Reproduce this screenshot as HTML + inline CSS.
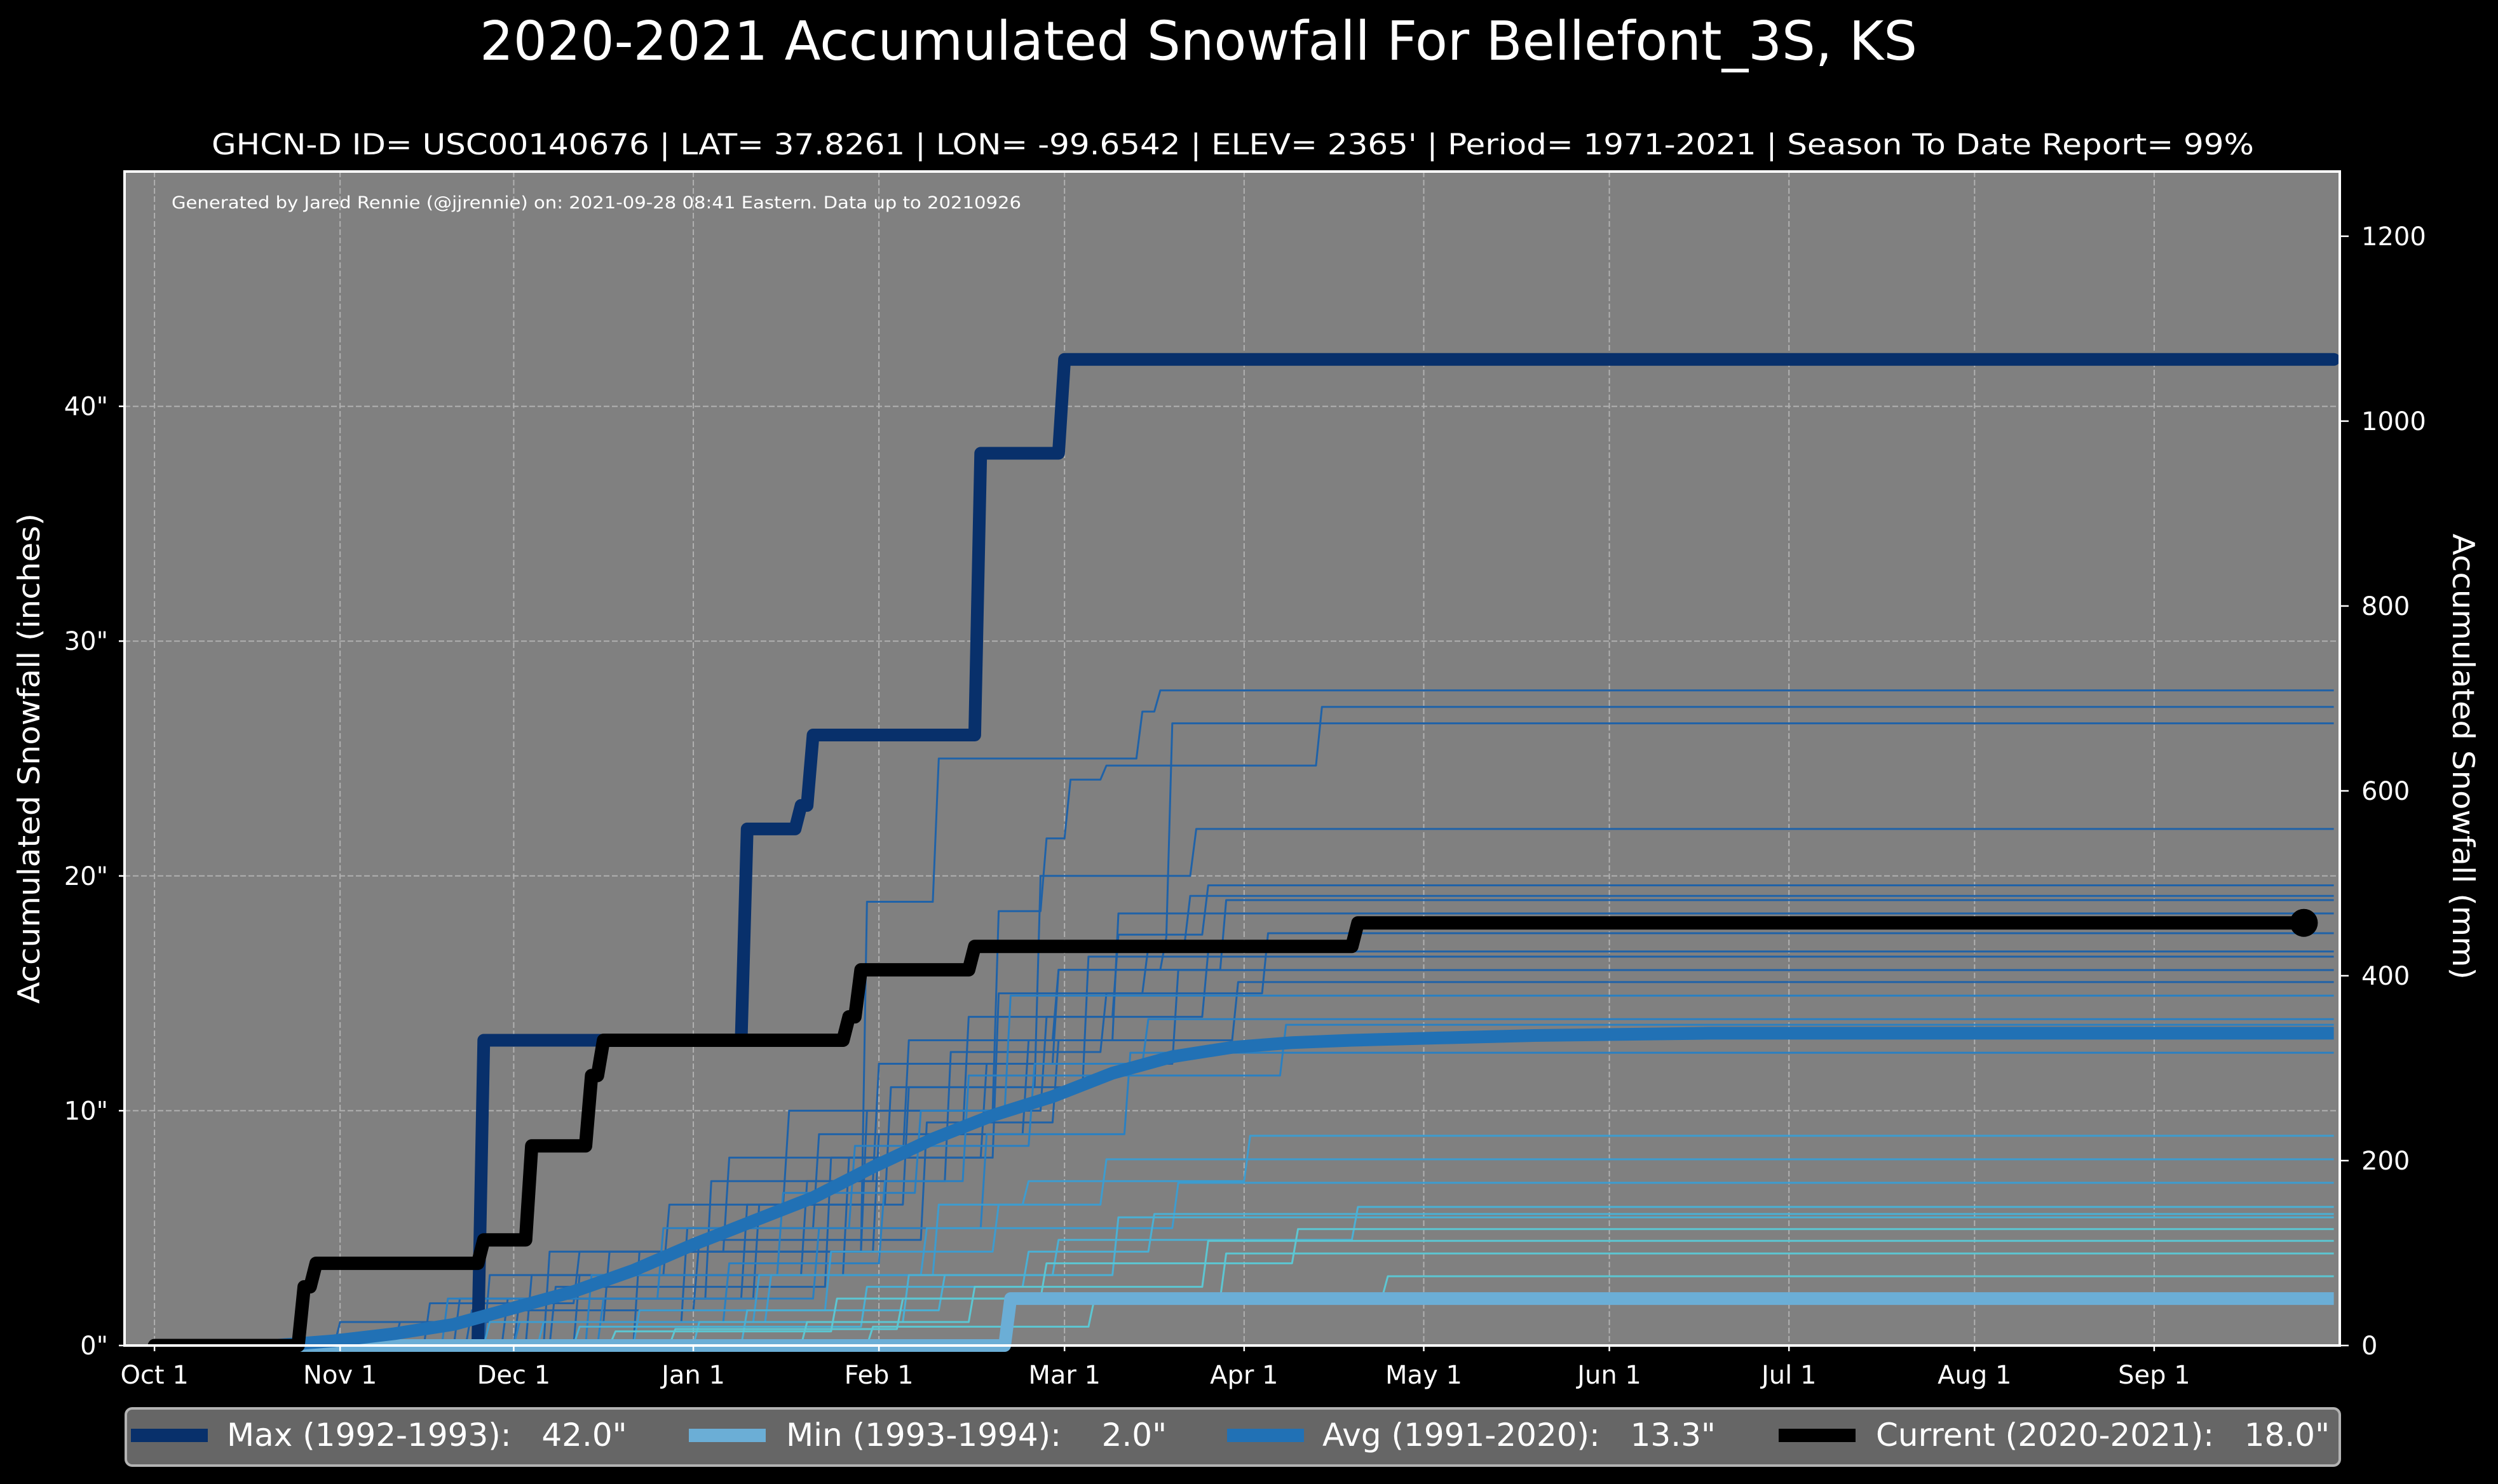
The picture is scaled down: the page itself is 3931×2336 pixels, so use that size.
<!DOCTYPE html>
<html><head><meta charset="utf-8">
<style>
html,body{margin:0;padding:0;background:#000;}
svg{display:block;font-family:"DejaVu Sans","Liberation Sans",sans-serif;}
text{fill:#fff;white-space:pre;}
</style></head>
<body>
<svg id="chart" width="3931" height="2336" viewBox="0 0 3931 2336" xmlns="http://www.w3.org/2000/svg">
<rect x="0" y="0" width="3931" height="2336" fill="#000"/>
<text x="755" y="94" font-size="85" textLength="2262" lengthAdjust="spacingAndGlyphs">2020-2021 Accumulated Snowfall For Bellefont_3S, KS</text>
<text x="1940" y="243" font-size="45" text-anchor="middle" textLength="3214" lengthAdjust="spacingAndGlyphs">GHCN-D ID= USC00140676 | LAT= 37.8261 | LON= -99.6542 | ELEV= 2365' | Period= 1971-2021 | Season To Date Report= 99%</text>
<rect x="196" y="270" width="3486" height="1848" fill="#808080"/>
<g id="grid"></g>
<g id="series"></g>
<text x="270" y="328" font-size="27" textLength="1337" lengthAdjust="spacingAndGlyphs">Generated by Jared Rennie (@jjrennie) on: 2021-09-28 08:41 Eastern. Data up to 20210926</text>
<rect x="196" y="270" width="3486" height="1848" fill="none" stroke="#fff" stroke-width="4"/>
<g id="axes"></g>
<text transform="translate(62,1194) rotate(-90)" font-size="47" text-anchor="middle" textLength="772" lengthAdjust="spacingAndGlyphs">Accumulated Snowfall (inches)</text>
<text transform="translate(3860,1191) rotate(90)" font-size="47" text-anchor="middle" textLength="702" lengthAdjust="spacingAndGlyphs">Accumulated Snowfall (mm)</text>
<g>
<rect x="198" y="2217" width="3484" height="90" rx="10" fill="#666666" stroke="#b3b3b3" stroke-width="4"/>
<rect x="206" y="2249" width="121" height="21" fill="#08306b"/>
<text x="357" y="2276" font-size="50">Max (1992-1993):   42.0"</text>
<rect x="1084" y="2249" width="121" height="21" fill="#6baed6"/>
<text x="1237" y="2276" font-size="50">Min (1993-1994):    2.0"</text>
<rect x="1931" y="2249" width="121" height="21" fill="#2171b5"/>
<text x="2081" y="2276" font-size="50">Avg (1991-2020):   13.3"</text>
<rect x="2799" y="2249" width="121" height="21" fill="#000"/>
<text x="2952" y="2276" font-size="50">Current (2020-2021):   18.0"</text>
</g>
</svg>
<script>
// ---- data ----
const monthLabels = ["Oct 1","Nov 1","Dec 1","Jan 1","Feb 1","Mar 1","Apr 1","May 1","Jun 1","Jul 1","Aug 1","Sep 1"];
const monthDays = [0,31,60,90,121,152,182,212,243,273,304,334];
const inchTicks = [0,10,20,30,40];
const mmTicks = [0,200,400,600,800,1000,1200];
const seasonEnd = 364;
const maxSteps = [[54,13],[98,22],[107,23],[109,26],[137,38],[151,42]];
const minSteps = [[142,2]];
const currentSteps = [[24,2.5],[26,3.5],[54,4.5],[62,8.5],[72,11.5],[74,13],[115,14],[117,16],[136,17],[200,18]];
const currentEndDay = 359;
const avgDays = [20,30,40,50,60,70,80,90,100,110,120,130,140,150,160,170,180,190,200,215,230,260,364];
const avgVals = [0,0.2,0.5,0.9,1.6,2.3,3.2,4.3,5.3,6.3,7.6,8.8,9.8,10.6,11.6,12.3,12.7,12.9,13.0,13.1,13.2,13.3,13.3];
const yearSteps = [
 [[45,1.8],[70,4],[118,18.9],[130,25],[164,27],[167,27.9]],
 [[55,3],[85,6],[105,10],[140,18.5],[148,21.6],[152,24.1],[158,24.7],[194,27.2]],
 [[65,4],[95,8],[125,13],[150,16],[168,17.4],[169,26.5]],
 [[60,2],[100,6],[122,11],[147,20],[173,22]],
 [[40,1],[88,5],[110,9],[135,14],[160,17.5],[175,19.6]],
 [[70,3],[115,8],[140,15],[165,17],[172,19.15]],
 [[50,2],[92,7],[120,12],[150,16],[178,18.97]],
 [[80,4],[120,9],[145,13],[160,18.4]],
 [[62,3],[108,7],[132,12.5],[158,15],[185,17.56]],
 [[30,1],[75,4],[118,10],[148,14],[175,16.78]],
 [[58,2],[98,6],[125,11],[155,16.56]],
 [[66,2.5],[112,8],[138,12],[170,15.99]],
 [[52,1.5],[90,4.5],[128,9.5],[150,13],[180,15.48]],
 [[72,3],[104,6.5],[127,10],[142,14.9]],
 [[48,2],[84,5],[116,8.5],[146,12],[165,13.9]],
 [[60,1],[95,3.5],[121,7],[135,11.5],[188,13.66]],
 [[74,2],[110,5],[138,9],[162,12.47]],
 [[55,1],[100,3],[130,6],[145,7],[182,8.93]],
 [[80,1.5],[112,4],[140,6],[158,7.93]],
 [[64,1],[102,3],[128,5],[170,6.93]],
 [[90,1],[125,3],[150,4.5],[200,5.9]],
 [[70,0.8],[118,2.5],[145,4],[166,5.6]],
 [[98,1.5],[131,3],[160,5.46]],
 [[76,0.6],[113,2],[148,3.5],[190,4.96]],
 [[108,1],[136,2.5],[175,4.46]],
 [[86,0.7],[124,2],[178,3.92]],
 [[119,0.8],[156,2],[205,2.95]]
];
// ---- axes ----
const X0=196, X1=3682, Y0=2118, Y1=270, DMIN=-5, DMAX=365, IMAX=50;
function xs(d){return X0+(d-DMIN)/(DMAX-DMIN)*(X1-X0);}
function ys(v){return Y0-v/IMAX*(Y0-Y1);}
function ymm(mm){return ys(mm/25.4);}
const NS="http://www.w3.org/2000/svg";
function mk(tag,attrs,parent){const e=document.createElementNS(NS,tag);for(const k in attrs)e.setAttribute(k,attrs[k]);parent.appendChild(e);return e;}
const grid=document.getElementById('grid'), axes=document.getElementById('axes'), series=document.getElementById('series');
monthDays.forEach((d,i)=>{
  const g=mk('line',{x1:xs(d),x2:xs(d),y1:Y1,y2:Y0,stroke:'#b0b0b0','stroke-width':2,'stroke-dasharray':'9,4'},grid);
  
  
  const t=mk('line',{x1:xs(d),x2:xs(d),y1:Y0,y2:Y0+9,stroke:'#fff','stroke-width':2.5},axes);
  
  
  const l=mk('text',{x:xs(d),y:2178,'font-size':40,'text-anchor':'middle'},axes);
  l.textContent=monthLabels[i];
  
  
});
inchTicks.forEach(v=>{
  if(v>0){const g=mk('line',{x1:X0,x2:X1,y1:ys(v),y2:ys(v),stroke:'#b0b0b0','stroke-width':2,'stroke-dasharray':'9,4'},grid);
  
  }
  const t=mk('line',{x1:X0-9,x2:X0,y1:ys(v),y2:ys(v),stroke:'#fff','stroke-width':2.5},axes);
  
  
  const l=mk('text',{x:170,y:ys(v)+14,'font-size':40,'text-anchor':'end'},axes);
  l.textContent=v+'"';
  
  
});
mmTicks.forEach(v=>{
  const t=mk('line',{x1:X1,x2:X1+14,y1:ymm(v),y2:ymm(v),stroke:'#fff','stroke-width':2.5},axes);
  
  
  const l=mk('text',{x:3716,y:ymm(v)+14,'font-size':40},axes);
  l.textContent=String(v);
  
  
});
function stepPoints(steps,end){
  const pts=[[0,0]];let prev=0;
  steps.forEach(([d,v])=>{pts.push([d,prev]);pts.push([d+1,v]);prev=v;});
  pts.push([end,prev]);
  return pts.map(p=>xs(p[0]).toFixed(1)+','+ys(p[1]).toFixed(1)).join(' ');
}
function yearColor(v){return v>=15?'#1f62a8':v>=12?'#2a80c2':v>=6.5?'#3d9ccf':v>=5?'#4ab0d4':'#5cc6d2';}
yearSteps.forEach(s=>{
  const endV=s[s.length-1][1];
  const p=mk('polyline',{points:stepPoints(s,seasonEnd),fill:'none',stroke:yearColor(endV),'stroke-width':3,'stroke-linejoin':'round'},series);
  
  
});
const pMax=mk('polyline',{points:stepPoints(maxSteps,seasonEnd),fill:'none',stroke:'#08306b','stroke-width':20,'stroke-linejoin':'round','stroke-linecap':'round'},series);


const pMin=mk('polyline',{points:stepPoints(minSteps,seasonEnd),fill:'none',stroke:'#6baed6','stroke-width':20,'stroke-linejoin':'round'},series);


const avgPts=[[0,0]].concat(avgDays.map((d,i)=>[d,avgVals[i]])).map(p=>xs(p[0]).toFixed(1)+','+ys(p[1]).toFixed(1)).join(' ');
const pAvg=mk('polyline',{points:avgPts,fill:'none',stroke:'#2171b5','stroke-width':20,'stroke-linejoin':'round'},series);


const pCur=mk('polyline',{points:stepPoints(currentSteps,currentEndDay),fill:'none',stroke:'#000','stroke-width':21,'stroke-linejoin':'round','stroke-linecap':'round'},series);


const lastCur=currentSteps[currentSteps.length-1][1];
const dot=mk('circle',{cx:xs(currentEndDay),cy:ys(lastCur),r:22,fill:'#000'},series);


</script>
</body></html>
